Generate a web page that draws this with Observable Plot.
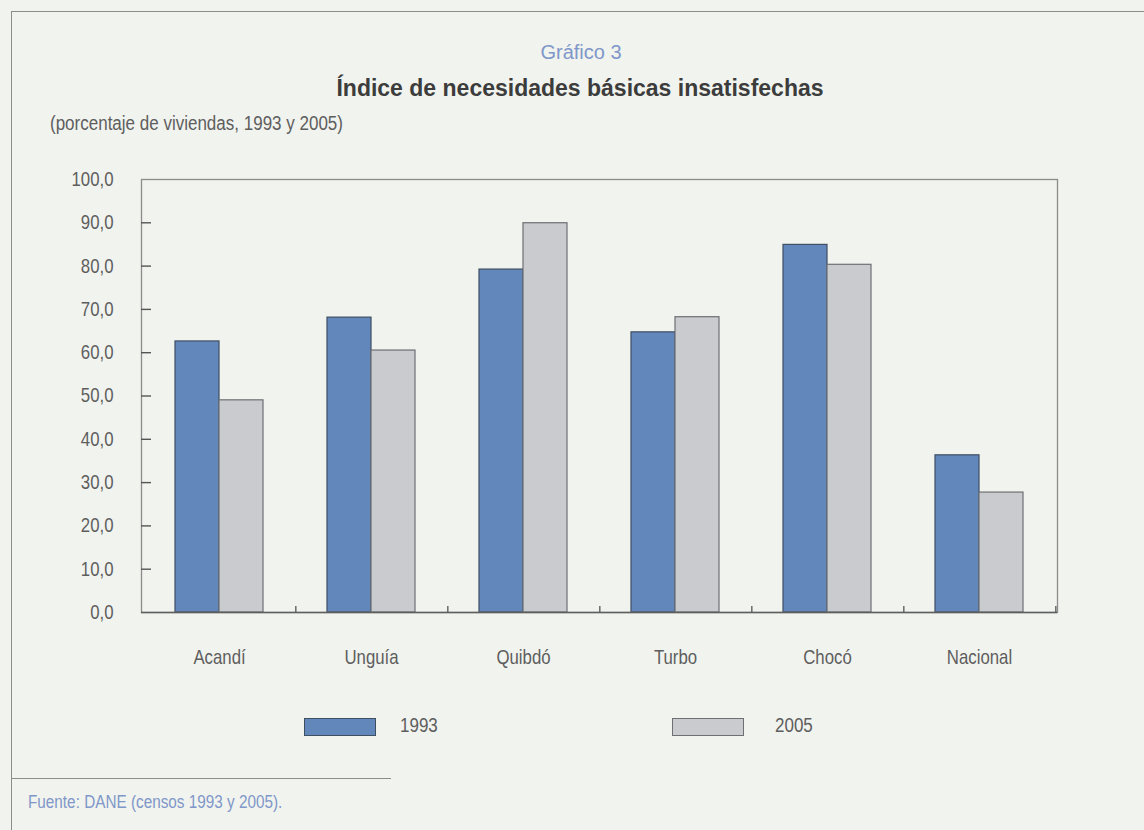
<!DOCTYPE html>
<html><head><meta charset="utf-8">
<script src="https://cdn.jsdelivr.net/npm/d3@7"></script>
<script src="https://cdn.jsdelivr.net/npm/@observablehq/plot@0.6"></script>
<style>
html,body{margin:0;padding:0;background:#f1f3ee;}
#page{position:relative;width:1144px;height:830px;overflow:hidden;font-family:"Liberation Sans",Arial,sans-serif;color:#5e5e5e;}
.abs{position:absolute;white-space:nowrap;}
.narrow{transform:scaleX(0.85);transform-origin:0 50%;}
#chart{position:absolute;left:0;top:150px;}
.sw{position:absolute;width:70px;height:16px;}
</style></head><body>
<div id="page">
  <div class="abs" style="left:12px;top:11px;width:1132px;height:0;border-top:1.5px solid #8c8c8c"></div>
  <div class="abs" style="left:11px;top:11px;width:0;height:819px;border-left:1.5px solid #8c8c8c"></div>
  <div class="abs" id="kicker" style="left:0;width:1162px;top:41px;text-align:center;font-size:20px;color:#7f97c9;"></div>
  <div class="abs" id="title" style="left:0;width:1160px;top:75px;text-align:center;font-size:23px;font-weight:bold;color:#3c3c3c;"></div>
  <div class="abs narrow" id="subtitle" style="left:50px;top:112px;font-size:20px;"></div>
  <div id="chart"></div>
  <div class="sw" style="left:304px;top:718px;background:#6287bb;border:1px solid #3f4e63;"></div>
  <div class="abs narrow" id="leg1" style="left:400px;top:714px;font-size:20px;"></div>
  <div class="sw" style="left:672px;top:718px;background:#c9cbcf;border:1px solid #6d6f73;"></div>
  <div class="abs narrow" id="leg2" style="left:775px;top:714px;font-size:20px;"></div>
  <div class="abs" style="left:12px;top:778px;width:379px;height:0;border-top:1.5px solid #8c8c8c"></div>
  <div class="abs narrow" id="source" style="left:28px;top:792px;font-size:18px;color:#7f97c9;"></div>
</div>
<script>
const kicker = "Gráfico 3";
const title = "Índice de necesidades básicas insatisfechas";
const subtitle = "(porcentaje de viviendas, 1993 y 2005)";
const source = "Fuente: DANE (censos 1993 y 2005).";
const categories = ["Acandí", "Unguía", "Quibdó", "Turbo", "Chocó", "Nacional"];
const years = ["1993", "2005"];
const values1993 = [62.6, 68.1, 79.2, 64.7, 84.9, 36.3];
const values2005 = [49.0, 60.5, 89.9, 68.2, 80.3, 27.7];
const yTicks = [0, 10, 20, 30, 40, 50, 60, 70, 80, 90, 100];

document.getElementById("kicker").textContent = kicker;
document.getElementById("title").textContent = title;
document.getElementById("subtitle").textContent = subtitle;
document.getElementById("source").textContent = source;
document.getElementById("leg1").textContent = years[0];
document.getElementById("leg2").textContent = years[1];

const d93 = categories.map((c, i) => ({cat: c, year: years[0], value: values1993[i]}));
const d05 = categories.map((c, i) => ({cat: c, year: years[1], value: values2005[i]}));
const fmt = d => d3.format(".1f")(d).replace(".", ",");
const plotWidth = 1144 - 141 - 87;
const step = plotWidth / categories.length;

const chart = Plot.plot({
  width: 1144, height: 530,
  marginTop: 29, marginLeft: 141, marginRight: 87, marginBottom: 68,
  style: {background: "transparent", fontFamily: "'Liberation Sans',Arial,sans-serif", fontSize: "20px", color: "#5e5e5e", overflow: "visible"},
  x: {domain: categories, paddingInner: 0.712, paddingOuter: 0.356},
  y: {domain: [0, 100]},
  marks: [
    Plot.barY(d93, {x: "cat", y: "value", fill: "#6287bb", stroke: "#3f4e63", strokeWidth: 1.2, dx: -22}),
    Plot.barY(d05, {x: "cat", y: "value", fill: "#c9cbcf", stroke: "#6d6f73", strokeWidth: 1.2, dx: 22}),
    Plot.frame({stroke: "#8c8c8c", strokeWidth: 1.3}),
    Plot.ruleY([0], {stroke: "#5e5e5e", strokeWidth: 1.5}),
    // inward ticks on the value axis
    Plot.ruleY(yTicks.slice(1, -1), {y: d => d, insetRight: plotWidth - 10, stroke: "#555", strokeWidth: 1.4}),
    Plot.axisY({ticks: yTicks, tickSize: 0, tickPadding: 28, tickFormat: fmt, label: null, fontSize: 20, fill: "#5e5e5e"}),
    Plot.axisX({tickSize: 0, tickPadding: 37, label: null, fontSize: 20, fill: "#5e5e5e"}),
    // small upward ticks between categories
    Plot.axisX({tickSize: 6, dy: -6, dx: step / 2, tickFormat: () => "", label: null, stroke: "#555", strokeWidth: 1.3})
  ]
});
// condensed look of the original's narrow typeface
const sx = 0.84;
chart.querySelectorAll("text").forEach(t => {
  if (!t.textContent) return;
  const tr = t.getAttribute("transform") || "";
  const x = t.getAttribute("x");
  if (x != null) t.setAttribute("x", +x / sx);
  t.setAttribute("transform", (tr + " scale(" + sx + ",1)").trim());
});
document.getElementById("chart").appendChild(chart);
</script>
</body></html>
